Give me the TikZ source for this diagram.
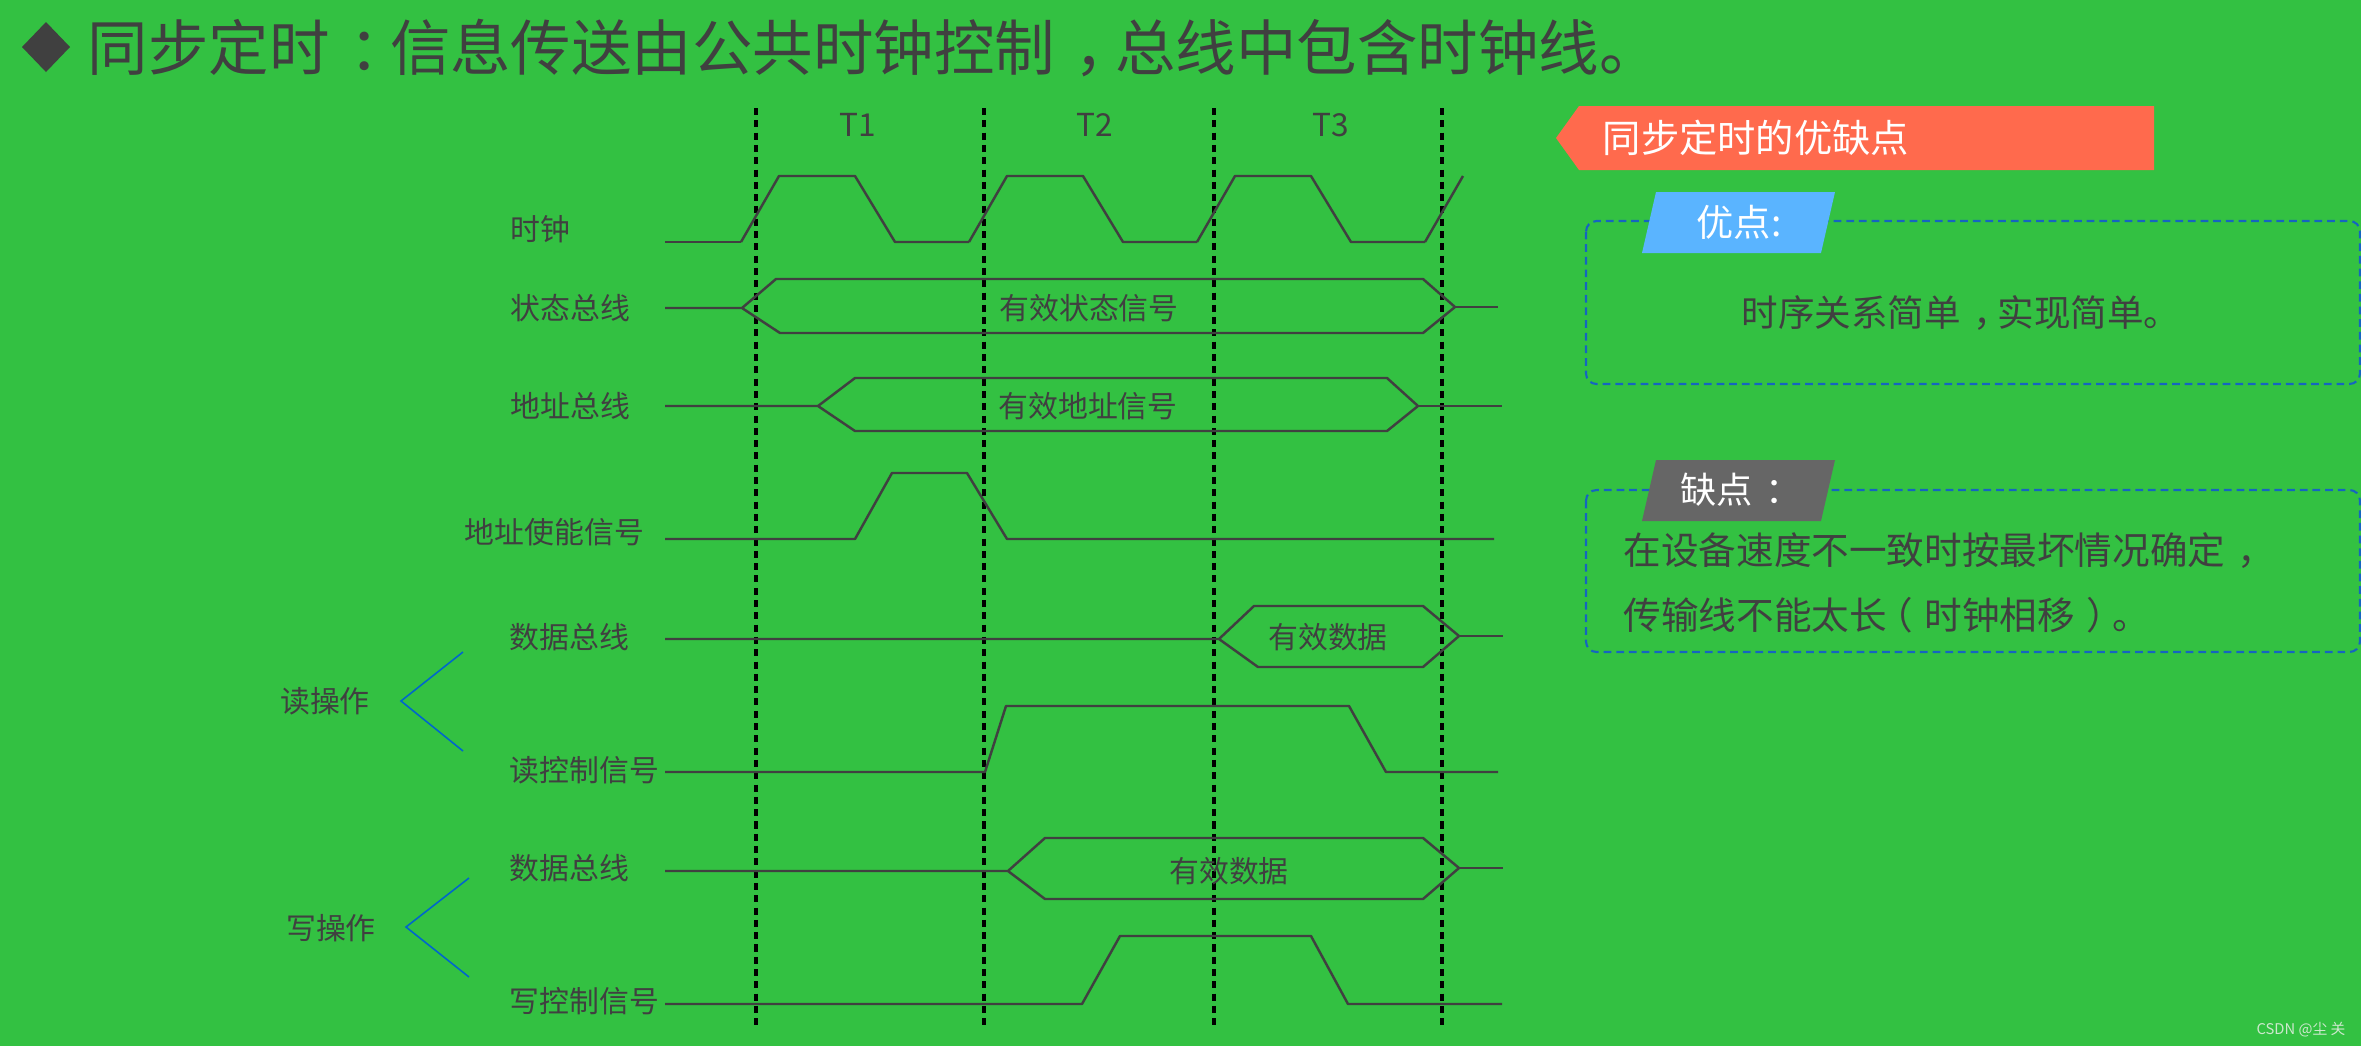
\documentclass[tikz,border=0pt]{standalone}
\usepackage{fontspec}
\setmainfont{Noto Sans CJK SC}
\newcommand\cpunct[1]{\kern.33em#1\kern-.33em}
\newcommand\lparen{\kern-.3em（\kern.3em}
\newcommand\rparen{\kern.3em）\kern-.3em}
\definecolor{bggreen}{RGB}{51,193,66}
\definecolor{ink}{RGB}{64,64,64}
\definecolor{banner}{RGB}{255,106,77}
\definecolor{tabblue}{RGB}{90,180,255}
\definecolor{tabgray}{RGB}{102,102,102}
\definecolor{boxblue}{RGB}{21,101,192}
\definecolor{brkblue}{RGB}{0,102,204}
\definecolor{mark}{RGB}{205,232,205}
\tikzset{
  wave/.style={draw=ink, line width=0.7pt, line join=round},
  tline/.style={draw=black, line width=0.95pt, dash pattern=on 2pt off 1.5pt},
  brk/.style={draw=brkblue, line width=0.45pt},
  lbl/.style={text=ink, inner sep=0pt, font=\fontsize{8.5}{10}\selectfont},
  note/.style={text=ink, inner sep=0pt, anchor=west, font=\fontsize{10.7}{12}\selectfont},
  tabtext/.style={text=white, inner sep=0pt, anchor=west, font=\fontsize{10.6}{12}\selectfont},
  frame/.style={draw=boxblue, line width=0.6pt, dash pattern=on 2.2pt off 1.4pt, rounded corners=3pt},
}
\begin{document}
\begin{tikzpicture}[x=0.1mm,y=-0.1mm]
\fill[bggreen] (0,0) rectangle (2361,1046);
\useasboundingbox (0,0) rectangle (2361,1046);

\fill[ink] (46,22) -- (70,47) -- (46,72) -- (22,47) -- cycle;
\node[text=ink, inner sep=0pt, anchor=west, font=\fontsize{17.2}{20}\selectfont] (title) at (87,48) {同步定时\cpunct{：}信息传送由公共时钟控制\cpunct{，}总线中包含时钟线。};

\foreach \x in {756,984,1214,1442}
  \draw[tline] (\x,108) -- (\x,1027);
\foreach \x/\n in {858/1,1095/2,1331/3}
  \node[lbl, font=\fontsize{9}{10}\selectfont] (t\n) at (\x,125) {T\n};

\node[lbl, anchor=west] (clk) at (510,229) {时钟};
\node[lbl, anchor=west] (stat) at (510,308) {状态总线};
\node[lbl, anchor=west] (addr) at (510,406) {地址总线};
\node[lbl, anchor=west] (ale) at (464,532) {地址使能信号};
\node[lbl, anchor=west] (rdata) at (509,637) {数据总线};
\node[lbl, anchor=west] (rd) at (509,770) {读控制信号};
\node[lbl, anchor=west] (wdata) at (509,868) {数据总线};
\node[lbl, anchor=west] (wr) at (509,1001) {写控制信号};
\node[lbl] (rop) at (325,701) {读操作};
\node[lbl] (wop) at (331,928) {写操作};

\draw[brk] (463,652) -- (401,701) -- (463,751);
\draw[brk] (469,878) -- (406,927) -- (469,977);

\draw[wave] (665,242) -- (741,242);
\foreach \p in {0,228,456}
  \draw[wave] (741+\p,242) -- (779+\p,176) -- (855+\p,176) -- (895+\p,242) -- (969+\p,242);
\draw[wave] (1425,242) -- (1463,176);

\draw[wave] (665,308) -- (742,308) -- (776,279) -- (1423,279) -- (1455,307) -- (1423,333) -- (780,333) -- (742,308);
\draw[wave] (1455,307) -- (1498,307);
\node[lbl] (statv) at (1089,308) {有效状态信号};

\draw[wave] (665,406) -- (818,406) -- (855,378) -- (1387,378) -- (1418,406) -- (1387,431) -- (855,431) -- (818,406);
\draw[wave] (1418,406) -- (1502,406);
\node[lbl] (addrv) at (1088,406) {有效地址信号};

\draw[wave] (665,539) -- (855,539) -- (892,473) -- (967,473) -- (1007,539) -- (1494,539);

\draw[wave] (665,639) -- (1219,639) -- (1254,606) -- (1423,606) -- (1459,636) -- (1423,667) -- (1258,667) -- (1219,639);
\draw[wave] (1459,636) -- (1503,636);
\node[lbl] (rdatav) at (1328,637) {有效数据};

\draw[wave] (665,772) -- (985,772) -- (1006,706) -- (1349,706) -- (1386,772) -- (1498,772);

\draw[wave] (665,871) -- (1008,871) -- (1045,838) -- (1423,838) -- (1459,868) -- (1423,899) -- (1045,899) -- (1008,871);
\draw[wave] (1459,868) -- (1503,868);
\node[lbl] (wdatav) at (1229,871) {有效数据};

\draw[wave] (665,1004) -- (1082,1004) -- (1120,936) -- (1311,936) -- (1348,1004) -- (1502,1004);

\fill[banner] (1556,138) -- (1579,106) -- (2154,106) -- (2154,170) -- (1579,170) -- cycle;
\node[tabtext, font=\fontsize{10.9}{12}\selectfont] (head) at (1602,138) {同步定时的优缺点};

\draw[frame] (1586,221) rectangle (2360,384);
\fill[tabblue] (1656,192) -- (1835,192) -- (1821,253) -- (1642,253) -- cycle;
\node[tabtext] (pro) at (1696,222) {优点:};
\node[note, anchor=center, font=\fontsize{10.4}{12}\selectfont] (protext) at (1961,313) {时序关系简单\cpunct{，}实现简单。};

\draw[frame] (1586,490) rectangle (2360,652);
\fill[tabgray] (1656,460) -- (1835,460) -- (1821,521) -- (1642,521) -- cycle;
\node[tabtext, font=\fontsize{10.3}{12}\selectfont] (con) at (1680,490) {缺点\cpunct{：}};
\node[note] (con1) at (1623,551) {在设备速度不一致时按最坏情况确定\cpunct{，}};
\node[note] (con2) at (1623,615) {传输线不能太长\lparen 时钟相移\rparen 。};

\node[text=mark, inner sep=0pt, font=\fontsize{4.2}{5}\selectfont] (csdn) at (2301,1030) {CSDN @尘 关};
\end{tikzpicture}
\end{document}
